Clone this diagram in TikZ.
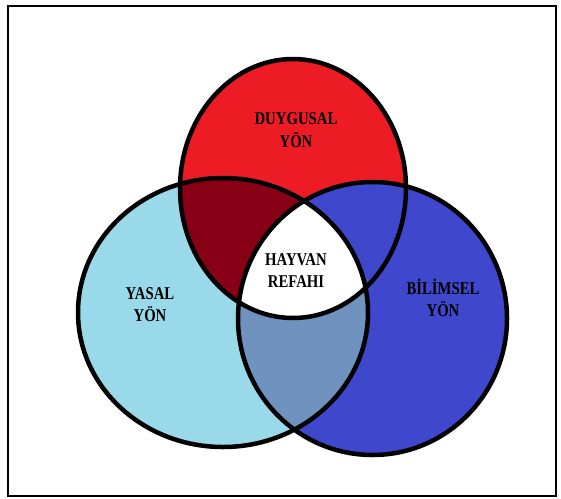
\documentclass[tikz,border=0pt]{standalone}
\usepackage{fontspec}
\setmainfont{Liberation Serif}
\definecolor{redA}{HTML}{ED1C24}
\definecolor{darkredA}{HTML}{880015}
\definecolor{lightblueA}{HTML}{99D9EA}
\definecolor{blueA}{HTML}{3F48CC}
\definecolor{grayblueA}{HTML}{7092BE}
\tikzset{
  outline/.style={draw=black, line width=4.5pt},
  label/.style={inner sep=0pt, font=\bfseries\fontsize{18}{22.5}\selectfont}
}
\newcommand{\twoline}[2]{\scalebox{0.82}[1]{\begin{tabular}{@{}c@{}}#1\\#2\end{tabular}}}
\begin{document}
\begin{tikzpicture}[x=1pt,y=-1pt]
\useasboundingbox (0,0) rectangle (561,498);
\fill[white] (0,0) rectangle (561,498);
\draw[line width=1.8pt] (8,6) rectangle (556,496);
\def\R{(293,188.5) ellipse [x radius=113pt, y radius=129.5pt]}
\def\L{(223,312.5) ellipse [x radius=145pt, y radius=134.5pt]}
\def\B{(372.5,318.5) ellipse [x radius=134.5pt, y radius=136.5pt]}
\fill[redA] \R;
\fill[lightblueA] \L;
\fill[blueA] \B;
\begin{scope}
  \clip \L;
  \fill[darkredA] \R;
  \fill[grayblueA] \B;
  \clip \B;
  \fill[white] \R;
\end{scope}
\draw[outline] \R;
\draw[outline] \L;
\draw[outline] \B;
\node[label] (duygusal) at (296,131.5) {\twoline{DUYGUSAL}{YÖN}};
\node[label] (hayvan) at (296,272) {\twoline{HAYVAN}{REFAHI}};
\node[label] (yasal) at (150,306) {\twoline{YASAL}{YÖN}};
\node[label] (bilimsel) at (443,301) {\twoline{BİLİMSEL}{YÖN}};
\end{tikzpicture}
\end{document}
